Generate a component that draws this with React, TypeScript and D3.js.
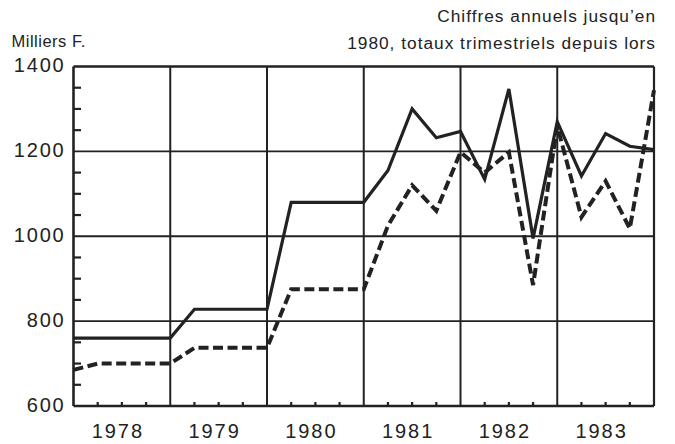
import React from "react";
import * as d3 from "d3";

// Quarter-end points from 1977 T4 to 1983 T4 (annual figures repeated until 1980)
const periods: string[] = [
  "1977T4",
  "1978T1", "1978T2", "1978T3", "1978T4",
  "1979T1", "1979T2", "1979T3", "1979T4",
  "1980T1", "1980T2", "1980T3", "1980T4",
  "1981T1", "1981T2", "1981T3", "1981T4",
  "1982T1", "1982T2", "1982T3", "1982T4",
  "1983T1", "1983T2", "1983T3", "1983T4",
];
const solidSeries: number[] = [
  760,
  760, 760, 760, 760,
  828, 828, 828, 828,
  1080, 1080, 1080, 1080,
  1155, 1300, 1232, 1247,
  1134, 1347, 995, 1270,
  1142, 1242, 1212, 1204,
];
const dashedSeries: number[] = [
  685,
  700, 700, 700, 700,
  737, 737, 737, 737,
  875, 875, 875, 875,
  1025, 1120, 1060, 1198,
  1150, 1198, 885, 1260,
  1045, 1130, 1018, 1344,
];
const years: string[] = ["1978", "1979", "1980", "1981", "1982", "1983"];
const yTicks: number[] = [600, 800, 1000, 1200, 1400];
const yMinorTicks: number[] = [650, 700, 750, 850, 900, 950, 1050, 1100, 1150, 1250, 1300, 1350];
const unitLabel = "Milliers F.";
const noteLines: string[] = ["Chiffres annuels jusqu\u2019en", "1980, totaux trimestriels depuis lors"];

const W = 675;
const H = 444;
const M = { left: 73.5, right: 21, top: 66.5, bottom: 38 };
const INK = "#222";
const FONT = "'Liberation Sans', Arial, Helvetica, sans-serif";

export default function App() {
  const x = d3.scaleLinear().domain([0, periods.length - 1]).range([M.left, W - M.right]);
  const y = d3.scaleLinear().domain([600, 1400]).range([H - M.bottom, M.top]);
  const line = d3
    .line<number>()
    .x((_, i) => x(i))
    .y((d) => y(d))
    .curve(d3.curveLinear);

  const yearBounds = years.map((_, i) => i * 4);
  const quarterTicks = periods.map((_, i) => i).filter((i) => i % 4 !== 0);
  const x0 = x(0);
  const x1 = x(periods.length - 1);
  const yTop = y(1400);
  const yBot = y(600);

  return (
    <svg
      width={W}
      height={H}
      viewBox={`0 0 ${W} ${H}`}
      style={{ position: "absolute", left: 0, top: 0, background: "#fff" }}
    >
      <rect x={0} y={0} width={W} height={H} fill="#fff" />
      {yTicks.map((t) => (
        <line key={"h" + t} x1={x0} x2={x1} y1={y(t)} y2={y(t)} stroke={INK} strokeWidth={t === 600 || t === 1400 ? 2.4 : 1.8} />
      ))}
      {yearBounds.map((b) => (
        <line key={"v" + b} x1={x(b)} x2={x(b)} y1={yTop} y2={yBot} stroke={INK} strokeWidth={b === 0 ? 2.6 : 2} />
      ))}
      <line x1={x1} x2={x1} y1={yTop} y2={yBot} stroke={INK} strokeWidth={2.2} />
      {yMinorTicks.map((t) => (
        <line key={"ym" + t} x1={x0} x2={x0 + 7.5} y1={y(t)} y2={y(t)} stroke={INK} strokeWidth={2.2} />
      ))}
      {quarterTicks.map((i) => (
        <line key={"xm" + i} x1={x(i)} x2={x(i)} y1={yBot} y2={yBot - 4} stroke={INK} strokeWidth={2.2} />
      ))}
      <path d={line(dashedSeries) || ""} fill="none" stroke={INK} strokeWidth={4} strokeDasharray="10 4.5" strokeLinejoin="miter" />
      <path d={line(solidSeries) || ""} fill="none" stroke={INK} strokeWidth={3.2} strokeLinejoin="miter" />
      {yTicks.map((t) => (
        <text key={"yl" + t} x={65.5} y={y(t) + 5.5} textAnchor="end" fontFamily={FONT} fontSize={20} letterSpacing={1.8} fill={INK}>
          {t}
        </text>
      ))}
      {years.map((yr, i) => (
        <text
          key={"xl" + yr}
          x={(x(i * 4) + x(i * 4 + 4)) / 2 - 4}
          y={437.5}
          textAnchor="middle"
          fontFamily={FONT}
          fontSize={20}
          letterSpacing={2}
          fill={INK}
        >
          {yr}
        </text>
      ))}
      <text x={11.5} y={46.8} fontFamily={FONT} fontSize={16.5} letterSpacing={0.5} fill={INK}>
        {unitLabel}
      </text>
      {noteLines.map((l, i) => (
        <text key={"n" + i} x={656} y={21.8 + i * 27.6} textAnchor="end" fontFamily={FONT} fontSize={17.3} letterSpacing={1} fill={INK}>
          {l}
        </text>
      ))}
    </svg>
  );
}
